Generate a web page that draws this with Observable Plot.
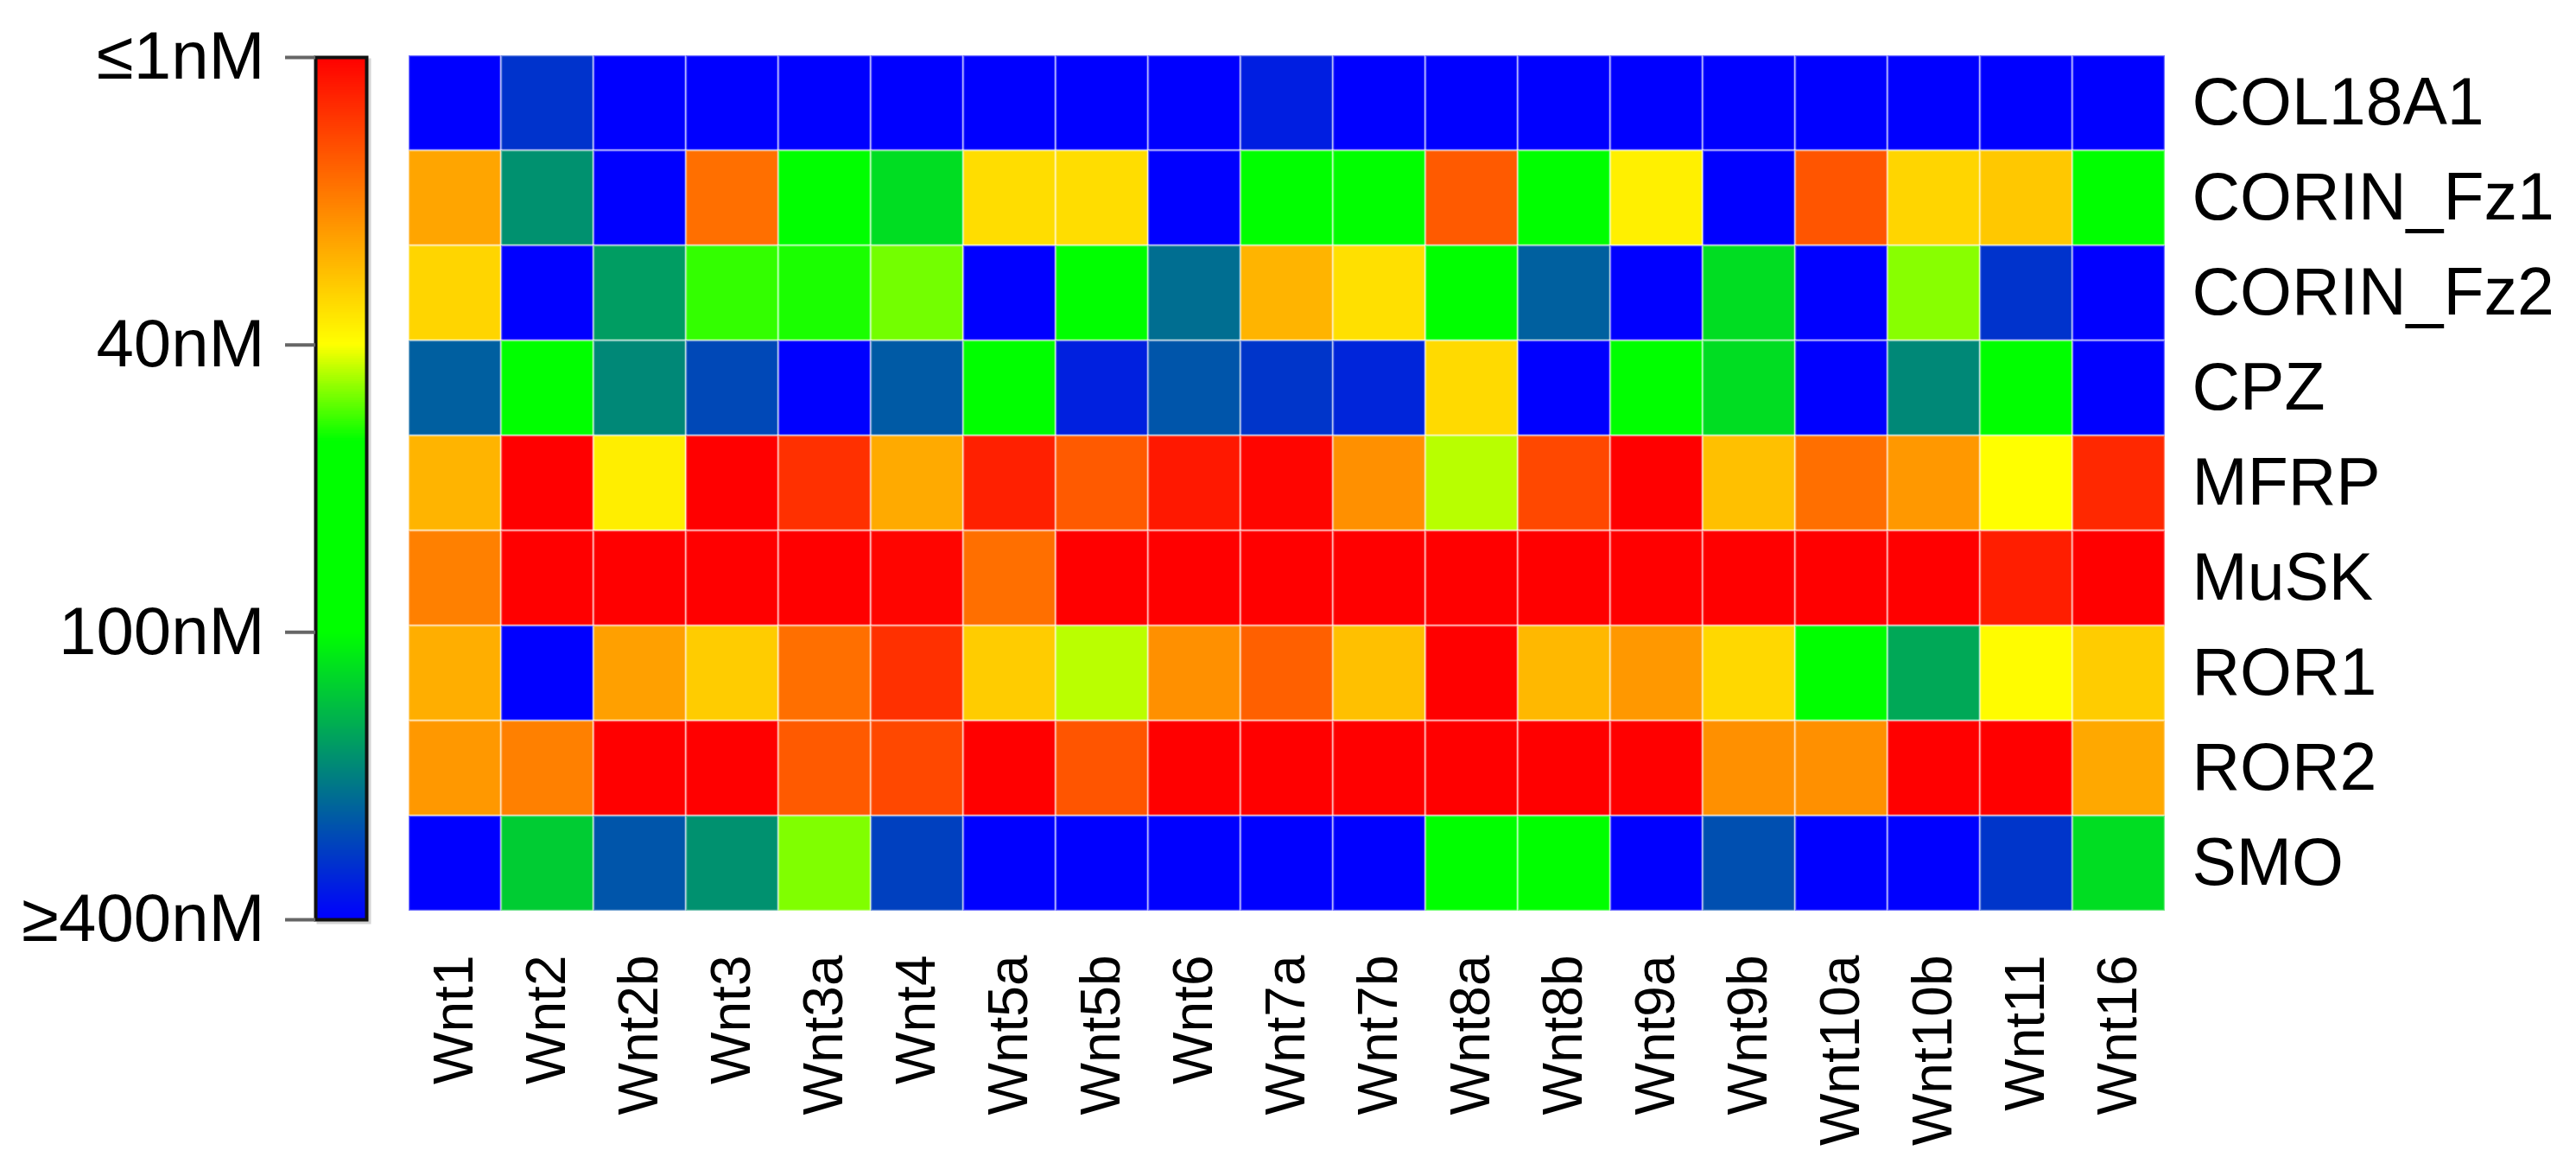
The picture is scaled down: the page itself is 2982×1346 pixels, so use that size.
<!DOCTYPE html>
<html>
<head>
<meta charset="utf-8">
<script src="https://cdn.jsdelivr.net/npm/d3@7"></script>
<script src="https://cdn.jsdelivr.net/npm/@observablehq/plot@0.6"></script>
<style>
  html, body { margin: 0; padding: 0; background: #ffffff; }
  #chart { position: relative; width: 2982px; height: 1346px; background: #ffffff; overflow: hidden; }
  #chart > svg { position: absolute; left: 0; top: 0; background: transparent; }
</style>
</head>
<body>
<div id="chart"></div>
<script>
// ---- Data (binding affinity, nM; ≤1 and ≥400 are the clipped extremes) ----
const wnts = ["Wnt1","Wnt2","Wnt2b","Wnt3","Wnt3a","Wnt4","Wnt5a","Wnt5b","Wnt6","Wnt7a",
              "Wnt7b","Wnt8a","Wnt8b","Wnt9a","Wnt9b","Wnt10a","Wnt10b","Wnt11","Wnt16"];
const receptors = ["COL18A1","CORIN_Fz1","CORIN_Fz2","CPZ","MFRP","MuSK","ROR1","ROR2","SMO"];

const COL18A1   = [400, 340, 400, 400, 400, 400, 400, 400, 400, 365, 400, 400, 400, 400, 400, 400, 400, 400, 400];
const CORIN_Fz1 = [26.2, 230, 400, 18, 80, 140, 34.8, 34.8, 400, 80, 80, 14.8, 80, 37.7, 400, 14, 33.6, 31.6, 80];
const CORIN_Fz2 = [33.6, 400, 215, 56, 58, 51, 400, 80, 271, 28.5, 35.3, 80, 287, 400, 140, 400, 49.3, 340, 400];
const CPZ       = [288, 80, 240, 315, 400, 294, 80, 362, 300, 338, 357, 34.3, 400, 80, 140, 400, 240, 80, 400];
const MFRP      = [28.5, 1, 37.4, 1, 8.3, 27, 5.9, 14.8, 4.7, 1.8, 23, 45.6, 12, 1, 30.4, 18, 24.2, 40, 7.1];
const MuSK      = [20.6, 1, 1, 1, 1, 1.8, 18, 1, 1, 1, 1, 1, 1, 1, 1, 1, 1, 5.6, 1];
const ROR1      = [27.6, 400, 25.5, 32.2, 18, 8.3, 32.2, 45.4, 23, 15.7, 30.4, 1, 29.1, 24.2, 34, 80, 202, 39.5, 32.2];
const ROR2      = [24.2, 20.6, 1, 1, 14.8, 12, 1, 14, 1, 1, 1, 1, 1, 1, 23, 23, 1, 1, 26.7];
const SMO       = [400, 160, 300, 230, 50, 325, 400, 400, 400, 400, 400, 80, 80, 400, 307, 400, 400, 338, 140];

const colorbarTicks = [1, 40, 100, 400];
const colorbarLabels = ["≤1nM", "40nM", "100nM", "≥400nM"];

// colour ramp: red (≤1) → yellow (40) → green (60–100) → blue (≥400)
const rampStops = [1, 40, 60, 100, 400];
const rampColors = ["#ff0000", "#ffff00", "#00ff00", "#00ff00", "#0000ff"];

// ---- Build table ----
const rows = {COL18A1, CORIN_Fz1, CORIN_Fz2, CPZ, MFRP, MuSK, ROR1, ROR2, SMO};
const table = [];
for (const r of receptors) rows[r].forEach((v, i) => table.push({receptor: r, wnt: wnts[i], nM: v}));

const colorOpts = {type: "linear", domain: rampStops, range: rampColors, interpolate: "rgb", clamp: true};
const FONT = "'Liberation Sans', Arial, Helvetica, sans-serif";

// ---- Heatmap ----
const heat = Plot.plot({
  width: 2982, height: 1346,
  marginLeft: 470, marginRight: 474, marginTop: 61, marginBottom: 289,
  style: {fontFamily: FONT, background: "transparent", color: "#000"},
  x: {domain: wnts, padding: 0},
  y: {domain: receptors, padding: 0},
  color: colorOpts,
  marks: [
    Plot.cell(table, {x: "wnt", y: "receptor", fill: "nM", inset: 0,
                      stroke: "#ffffff", strokeOpacity: 0.45, strokeWidth: 2.5}),
    Plot.axisX({anchor: "bottom", tickRotate: -90, tickSize: 0, tickPadding: 48,
                fontSize: 64, label: null}),
    Plot.axisY({anchor: "right", tickSize: 0, tickPadding: 29, fontSize: 77, label: null})
  ]
});

// ---- Colour bar ----
const samples = [];
for (let s = 0; s < colorbarTicks.length - 1; s++) {
  const a = colorbarTicks[s], b = colorbarTicks[s + 1], n = 150;
  for (let k = 0; k < n; k++) {
    const lo = a + (b - a) * k / n, hi = a + (b - a) * (k + 1) / n;
    samples.push({lo, hi, mid: (lo + hi) / 2});
  }
}
const barTop = 66, barBottom = 1064;
const span = barBottom - barTop;
const bar = Plot.plot({
  width: 470, height: 1346,
  marginLeft: 365, marginRight: 46, marginTop: barTop, marginBottom: 1346 - barBottom,
  style: {fontFamily: FONT, background: "transparent", color: "#000"},
  x: {axis: null, padding: 0},
  y: {type: "linear", domain: colorbarTicks,
      range: colorbarTicks.map((_, i) => barTop + span * i / (colorbarTicks.length - 1))},
  color: colorOpts,
  marks: [
    Plot.frame({stroke: "#d4d4d4", strokeWidth: 4, dx: 3, dy: 3}),
    Plot.barY(samples, {x: () => "bar", y1: "lo", y2: "hi", fill: "mid", inset: 0,
                        shapeRendering: "crispEdges"}),
    Plot.frame({stroke: "#111", strokeWidth: 4}),
    Plot.axisY({anchor: "left", ticks: colorbarTicks, tickSize: 35, tickPadding: 24,
                tickFormat: (d) => colorbarLabels[colorbarTicks.indexOf(d)],
                fontSize: 78, stroke: "#666", strokeWidth: 4, fill: "#000", label: null})
  ]
});

const root = document.getElementById("chart");
root.appendChild(bar);
root.appendChild(heat);
</script>
</body>
</html>
